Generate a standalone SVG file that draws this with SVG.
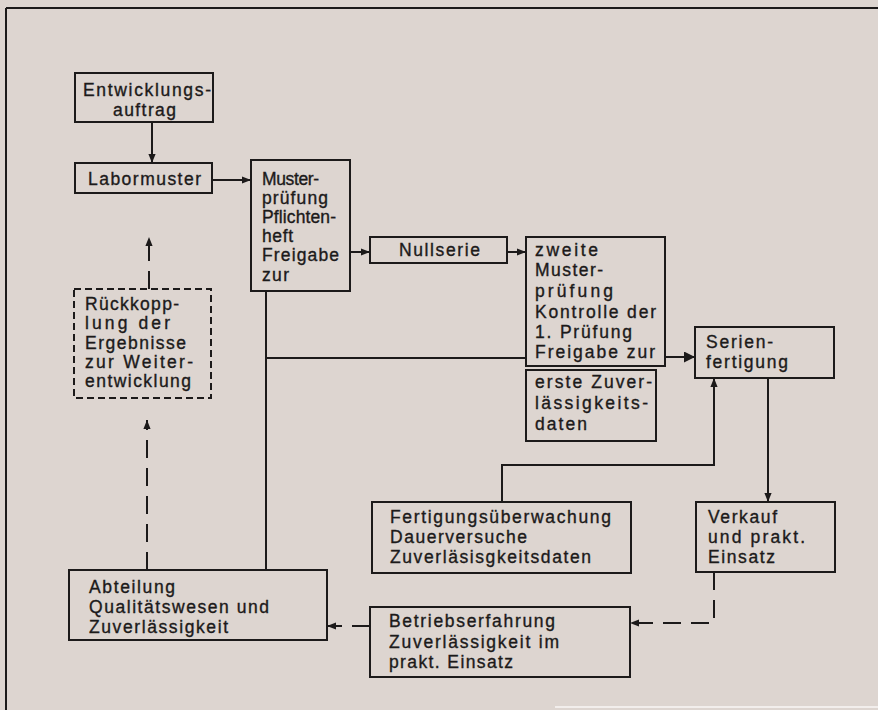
<svg xmlns="http://www.w3.org/2000/svg" width="878" height="710" viewBox="0 0 878 710">
<style>
.bg{fill:#ddd5d0}
.box{fill:none;stroke:#1c1a1a;stroke-width:2}
.dbox{fill:none;stroke:#1c1a1a;stroke-width:2;stroke-dasharray:7 4}
.ln{fill:none;stroke:#1c1a1a;stroke-width:2}
.dl{fill:none;stroke:#1c1a1a;stroke-width:2;stroke-dasharray:18 10}
text{font-family:"Liberation Sans",Arial,sans-serif;font-size:17.5px;fill:#1c1a1a;stroke:#1c1a1a;stroke-width:0.35}
</style>
<defs>
<marker id="ah" viewBox="0 0 10 10" refX="10" refY="5" markerWidth="9" markerHeight="9" orient="auto" markerUnits="userSpaceOnUse"><path d="M0,1 L10,5 L0,9 z" fill="#1c1a1a"/></marker>
<marker id="ahb" viewBox="0 0 10 10" refX="10" refY="5" markerWidth="11" markerHeight="11" orient="auto" markerUnits="userSpaceOnUse"><path d="M0,0 L10,5 L0,10 z" fill="#1c1a1a"/></marker>
</defs>
<rect class="bg" x="0" y="0" width="878" height="710"/>
<g id="frame">
<line class="ln" x1="6" y1="8" x2="878" y2="8"/>
<line class="ln" x1="6" y1="8" x2="6" y2="710"/>
<line x1="555" y1="707" x2="878" y2="707" stroke="#f2eeec" stroke-width="2"/>
</g>
<g id="connectors">
<line class="ln" x1="152" y1="122" x2="152" y2="163" marker-end="url(#ah)"/>
<line class="ln" x1="212" y1="180" x2="251" y2="180" marker-end="url(#ah)"/>
<line class="ln" x1="350" y1="252" x2="370" y2="252" marker-end="url(#ah)"/>
<line class="ln" x1="507" y1="252" x2="526" y2="252" marker-end="url(#ah)"/>
<line class="ln" x1="665" y1="357" x2="695" y2="357" marker-end="url(#ahb)"/>
<line class="ln" x1="266" y1="291" x2="266" y2="570"/>
<line class="ln" x1="266" y1="358" x2="526" y2="358"/>
<path class="ln" d="M502,502 V465 H714 V378" marker-end="url(#ah)"/>
<line class="ln" x1="768" y1="378" x2="768" y2="502" marker-end="url(#ah)"/>
<path class="dl" d="M714,572 V623 H630" marker-end="url(#ah)"/>
<path class="dl" d="M370,626 H327" marker-end="url(#ah)" stroke-dasharray="14 8"/>
<path class="dl" d="M147,570 V420" marker-end="url(#ah)"/>
<path class="dl" d="M149,289 V237" stroke-dasharray="19 19" marker-end="url(#ah)"/>
</g>
<g id="entwicklungsauftrag">
<rect class="box" x="75" y="73" width="138" height="49"/>
<text x="83" y="96" textLength="128" lengthAdjust="spacing">Entwicklungs-</text>
<text x="113" y="116" textLength="63" lengthAdjust="spacing">auftrag</text>
</g>
<g id="labormuster">
<rect class="box" x="75" y="163" width="137" height="30"/>
<text x="88" y="185" textLength="113" lengthAdjust="spacing">Labormuster</text>
</g>
<g id="musterpruefung">
<rect class="box" x="251" y="160" width="99" height="131"/>
<text x="262" y="185" textLength="57" lengthAdjust="spacing">Muster-</text>
<text x="262" y="204" textLength="66" lengthAdjust="spacing">prüfung</text>
<text x="262" y="223" textLength="74" lengthAdjust="spacing">Pflichten-</text>
<text x="262" y="242" textLength="31" lengthAdjust="spacing">heft</text>
<text x="262" y="261" textLength="77" lengthAdjust="spacing">Freigabe</text>
<text x="262" y="281" textLength="27" lengthAdjust="spacing">zur</text>
</g>
<g id="nullserie">
<rect class="box" x="370" y="237" width="137" height="26"/>
<text x="399" y="256" textLength="81" lengthAdjust="spacing">Nullserie</text>
</g>
<g id="zweite-musterpruefung">
<rect class="box" x="526" y="237" width="139" height="129"/>
<text x="535" y="256" textLength="63" lengthAdjust="spacing">zweite</text>
<text x="535" y="276" textLength="68" lengthAdjust="spacing">Muster-</text>
<text x="535" y="297" textLength="78" lengthAdjust="spacing">prüfung</text>
<text x="535" y="318" textLength="121" lengthAdjust="spacing">Kontrolle der</text>
<text x="535" y="338" textLength="97" lengthAdjust="spacing">1. Prüfung</text>
<text x="535" y="358" textLength="120" lengthAdjust="spacing">Freigabe zur</text>
</g>
<g id="erste-zuverlaessigkeitsdaten">
<rect class="box" x="526" y="370" width="130" height="71"/>
<text x="535" y="388" textLength="117" lengthAdjust="spacing">erste Zuver-</text>
<text x="535" y="409" textLength="113" lengthAdjust="spacing">lässigkeits-</text>
<text x="535" y="430" textLength="52" lengthAdjust="spacing">daten</text>
</g>
<g id="serienfertigung">
<rect class="box" x="695" y="327" width="139" height="51"/>
<text x="706" y="348" textLength="67" lengthAdjust="spacing">Serien-</text>
<text x="706" y="368" textLength="82" lengthAdjust="spacing">fertigung</text>
</g>
<g id="rueckkopplung">
<rect class="dbox" x="74" y="289" width="137" height="109"/>
<text x="85" y="310" textLength="94" lengthAdjust="spacing">Rückkopp-</text>
<text x="85" y="329" textLength="85" lengthAdjust="spacing">lung der</text>
<text x="85" y="349" textLength="101" lengthAdjust="spacing">Ergebnisse</text>
<text x="85" y="368" textLength="108" lengthAdjust="spacing">zur  Weiter-</text>
<text x="85" y="387" textLength="106" lengthAdjust="spacing">entwicklung</text>
</g>
<g id="fertigungsueberwachung">
<rect class="box" x="372" y="502" width="259" height="71"/>
<text x="390" y="523" textLength="221" lengthAdjust="spacing">Fertigungsüberwachung</text>
<text x="390" y="543" textLength="137" lengthAdjust="spacing">Dauerversuche</text>
<text x="390" y="563" textLength="201" lengthAdjust="spacing">Zuverläsisgkeitsdaten</text>
</g>
<g id="verkauf">
<rect class="box" x="696" y="502" width="139" height="70"/>
<text x="708" y="523" textLength="69" lengthAdjust="spacing">Verkauf</text>
<text x="708" y="543" textLength="97" lengthAdjust="spacing">und prakt.</text>
<text x="708" y="563" textLength="67" lengthAdjust="spacing">Einsatz</text>
</g>
<g id="betriebserfahrung">
<rect class="box" x="370" y="607" width="260" height="70"/>
<text x="389" y="627" textLength="166" lengthAdjust="spacing">Betriebserfahrung</text>
<text x="389" y="648" textLength="170" lengthAdjust="spacing">Zuverlässigkeit im</text>
<text x="389" y="668" textLength="124" lengthAdjust="spacing">prakt. Einsatz</text>
</g>
<g id="abteilung">
<rect class="box" x="69" y="570" width="258" height="70"/>
<text x="89" y="593" textLength="86" lengthAdjust="spacing">Abteilung</text>
<text x="89" y="613" textLength="180" lengthAdjust="spacing">Qualitätswesen und</text>
<text x="89" y="633" textLength="139" lengthAdjust="spacing">Zuverlässigkeit</text>
</g>
</svg>
